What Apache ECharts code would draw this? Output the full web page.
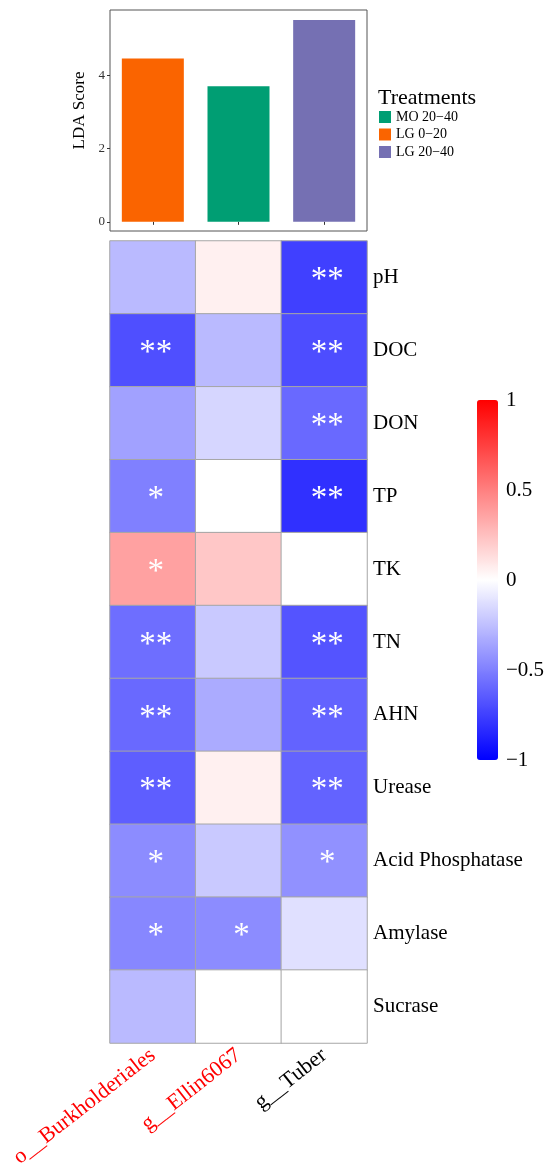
<!DOCTYPE html>
<html>
<head>
<meta charset="utf-8">
<script src="https://cdn.jsdelivr.net/npm/echarts@6/dist/echarts.min.js"></script>
<style>html,body{margin:0;padding:0;background:#fff}#c{width:550px;height:1168px}</style>
</head>
<body>
<div id="c"></div>
<script>
// ---- data ----
const taxa = ['o__Burkholderiales', 'g__Ellin6067', 'g__Tuber'];
const taxaLabelColors = ['#FF0000', '#FF0000', '#000000'];
const treatments = ['LG 0\u221220', 'MO 20\u221240', 'LG 20\u221240']; // treatment of each taxon bar
const ldaScores = [4.46, 3.70, 5.51];
const legendOrder = ['MO 20\u221240', 'LG 0\u221220', 'LG 20\u221240'];
const treatmentColors = ['#FA6400', '#009E73', '#7570B3'];
const ldaTicks = [0, 2, 4];

const factors = ['pH', 'DOC', 'DON', 'TP', 'TK', 'TN', 'AHN', 'Urease', 'Acid Phosphatase', 'Amylase', 'Sucrase'];
const corBurkholderiales = [-0.27, -0.69, -0.37, -0.50, 0.37, -0.57, -0.59, -0.63, -0.45, -0.47, -0.27];
const corEllin6067 = [0.06, -0.27, -0.16, 0.00, 0.22, -0.21, -0.33, 0.06, -0.21, -0.45, 0.00];
const corTuber = [-0.75, -0.70, -0.59, -0.81, 0.00, -0.67, -0.61, -0.61, -0.43, -0.12, 0.00];
const sigBurkholderiales = ['', '**', '', '*', '*', '**', '**', '**', '*', '*', ''];
const sigEllin6067 = ['', '', '', '', '', '', '', '', '', '*', ''];
const sigTuber = ['**', '**', '**', '**', '', '**', '**', '**', '*', '', ''];
const colorbarTicks = [-1, -0.5, 0, 0.5, 1];

// ---- build ----
const corCols = [corBurkholderiales, corEllin6067, corTuber];
const sigCols = [sigBurkholderiales, sigEllin6067, sigTuber];
const heatData = [];
corCols.forEach((col, xi) => col.forEach((v, yi) => heatData.push([xi, yi, v, sigCols[xi][yi]])));

const serif = 'Liberation Serif';
const barSeries = treatments.map((t, i) => ({
  name: t,
  type: 'bar',
  xAxisIndex: 0, yAxisIndex: 0,
  barWidth: 62,
  barGap: '-100%',
  itemStyle: { color: treatmentColors[i] },
  data: ldaScores.map((v, j) => (j === i ? v : '-')),
  emphasis: { disabled: true }
}));

const chart = echarts.init(document.getElementById('c'), null, { renderer: 'canvas' });
chart.setOption({
  animation: false,
  backgroundColor: '#ffffff',
  title: {
    text: 'Treatments', left: 378, top: 87, padding: 0,
    textStyle: { fontFamily: serif, fontSize: 22, fontWeight: 'normal', color: '#000' }
  },
  legend: {
    data: legendOrder, orient: 'vertical', left: 379, top: 110,
    itemWidth: 12, itemHeight: 12, itemGap: 3.5, icon: 'rect',
    padding: 0,
    textStyle: { fontFamily: serif, fontSize: 14, color: '#000' }
  },
  grid: [
    { left: 110, width: 257, top: 10, height: 221, show: true, borderColor: '#555', borderWidth: 1, backgroundColor: '#fff', outerBoundsMode: 'none' },
    { left: 110, width: 257, top: 241, height: 802, outerBoundsMode: 'none' },
    { left: 477, width: 21, top: 400, height: 360, outerBoundsMode: 'none' }
  ],
  xAxis: [
    { type: 'category', gridIndex: 0, data: taxa,
      axisLine: { show: false }, axisLabel: { show: false, interval: 0 },
      axisTick: { show: true, interval: 0, alignWithLabel: true, length: 3, lineStyle: { color: '#333' } } },
    { type: 'category', gridIndex: 1, data: taxa, position: 'bottom',
      axisLine: { show: false }, axisTick: { show: false },
      axisLabel: { interval: 0, rotate: 38, margin: 10, fontFamily: serif, fontSize: 22,
        color: (v, i) => taxaLabelColors[taxa.indexOf(v)] } },
    { type: 'value', gridIndex: 2, show: false, min: 0, max: 1 }
  ],
  yAxis: [
    { type: 'value', gridIndex: 0, min: -0.25, max: 5.78,
      name: 'LDA Score', nameLocation: 'middle', nameGap: 22,
      nameTextStyle: { fontFamily: serif, fontSize: 17, color: '#000', padding: [0, 0, 0, 20] },
      splitLine: { show: false }, axisLine: { show: false },
      axisTick: { show: true, length: 3, customValues: ldaTicks, lineStyle: { color: '#333' } },
      axisLabel: { customValues: ldaTicks, fontFamily: serif, fontSize: 13, color: '#333', margin: 5 } },
    { type: 'category', gridIndex: 1, data: factors, inverse: true, position: 'right',
      axisLine: { show: false }, axisTick: { show: false },
      axisLabel: { interval: 0, margin: 6, fontFamily: serif, fontSize: 21, color: '#000', padding: [12, 0, 0, 0] } },
    { type: 'value', gridIndex: 2, min: -1, max: 1, interval: 0.5, position: 'right',
      splitLine: { show: false }, axisLine: { show: false }, axisTick: { show: false },
      axisLabel: { margin: 8, fontFamily: serif, fontSize: 21, color: '#000',
        customValues: colorbarTicks,
        formatter: v => String(v).replace('-', '\u2212') } }
  ],
  visualMap: {
    type: 'continuous', seriesIndex: 3, dimension: 2, min: -1, max: 1,
    orient: 'vertical', left: 477, top: 400, itemWidth: 21, itemHeight: 360,
    padding: 0, calculable: false, text: null, showLabel: false,
    inRange: { color: ['#0000FF', '#FFFFFF', '#FF0000'] }
  },
  series: [
    ...barSeries,
    { type: 'heatmap', xAxisIndex: 1, yAxisIndex: 1, data: heatData,
      itemStyle: { borderColor: '#A6A6A6', borderWidth: 1 },
      label: { show: true, formatter: p => p.data[3], color: '#fff', fontFamily: serif, fontSize: 33, offset: [3, 3] },
      emphasis: { disabled: true } }
  ]
});
</script>
</body>
</html>
